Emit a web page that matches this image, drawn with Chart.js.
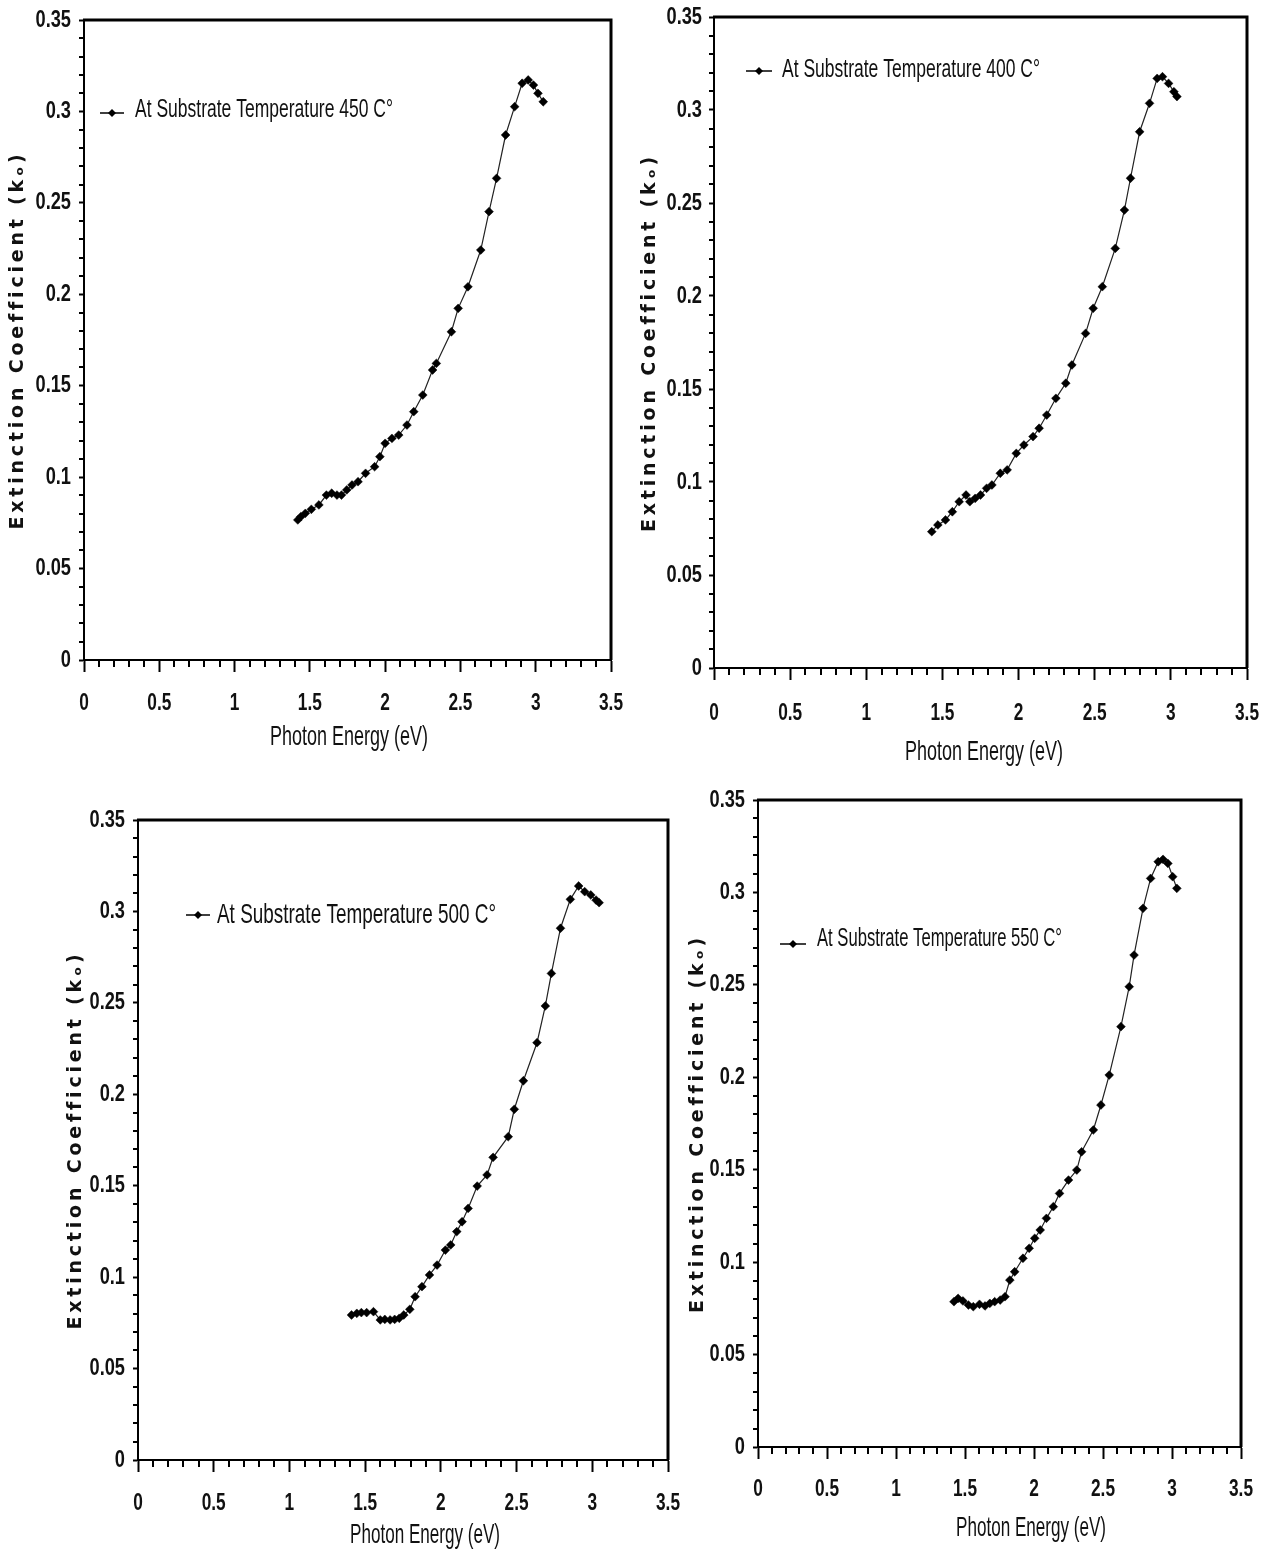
<!DOCTYPE html>
<html lang="en">
<head>
<meta charset="UTF-8">
<script src="https://cdn.jsdelivr.net/npm/chart.js"></script>
<style>
  body { margin: 0; background: #fff; width: 1267px; height: 1553px; position: relative; overflow: hidden; }
  canvas { position: absolute; }
</style>
</head>
<body>
<canvas id="c450" style="left:0px;top:0px" width="630" height="765"></canvas>
<canvas id="c400" style="left:630px;top:0px" width="637" height="780"></canvas>
<canvas id="c500" style="left:0px;top:780px" width="680" height="773"></canvas>
<canvas id="c550" style="left:680px;top:780px" width="587" height="773"></canvas>
<script>
// photon energy (eV) and extinction coefficient for each substrate temperature
const e450 = [1.42, 1.44, 1.47, 1.51, 1.56, 1.61, 1.645, 1.68, 1.71, 1.745, 1.78, 1.82, 1.87, 1.93, 1.965, 2.0, 2.045, 2.09, 2.145, 2.19, 2.25, 2.315, 2.34, 2.44, 2.485, 2.55, 2.635, 2.69, 2.74, 2.80, 2.86, 2.91, 2.95, 2.985, 3.015, 3.05];
const k450 = [0.0766, 0.0784, 0.0802, 0.0824, 0.0848, 0.0902, 0.0912, 0.0902, 0.0902, 0.093, 0.0957, 0.0975, 0.1021, 0.1057, 0.1112, 0.1185, 0.1212, 0.123, 0.1285, 0.1358, 0.1449, 0.1586, 0.1622, 0.1795, 0.1923, 0.2041, 0.2242, 0.2452, 0.2634, 0.2871, 0.3026, 0.3154, 0.3172, 0.3144, 0.3099, 0.3053];

const e400 = [1.43, 1.47, 1.52, 1.565, 1.61, 1.655, 1.68, 1.715, 1.75, 1.79, 1.825, 1.88, 1.925, 1.985, 2.035, 2.095, 2.135, 2.185, 2.245, 2.31, 2.35, 2.44, 2.49, 2.55, 2.635, 2.695, 2.735, 2.795, 2.86, 2.91, 2.945, 2.985, 3.02, 3.04];
const k400 = [0.0733, 0.0769, 0.0796, 0.084, 0.0894, 0.093, 0.0894, 0.0912, 0.093, 0.0966, 0.0984, 0.1047, 0.1065, 0.1154, 0.1199, 0.1244, 0.1289, 0.136, 0.145, 0.1531, 0.1629, 0.1799, 0.1934, 0.205, 0.2256, 0.2462, 0.2633, 0.2883, 0.3036, 0.317, 0.3179, 0.3143, 0.3098, 0.3072];

const e500 = [1.41, 1.445, 1.475, 1.51, 1.555, 1.6, 1.63, 1.665, 1.695, 1.725, 1.755, 1.795, 1.83, 1.875, 1.925, 1.975, 2.03, 2.065, 2.105, 2.14, 2.18, 2.24, 2.305, 2.345, 2.445, 2.485, 2.545, 2.635, 2.69, 2.73, 2.79, 2.855, 2.91, 2.95, 2.99, 3.025, 3.045];
const k500 = [0.0793, 0.0802, 0.0806, 0.0806, 0.0811, 0.0766, 0.0769, 0.0766, 0.0769, 0.0775, 0.0793, 0.0824, 0.0893, 0.0948, 0.1012, 0.1066, 0.1148, 0.1176, 0.1249, 0.1303, 0.1376, 0.1498, 0.1559, 0.1655, 0.1768, 0.1918, 0.2074, 0.2282, 0.2483, 0.2661, 0.2908, 0.3066, 0.3139, 0.3108, 0.309, 0.3062, 0.3048];

const e550 = [1.42, 1.45, 1.485, 1.525, 1.56, 1.605, 1.645, 1.68, 1.715, 1.755, 1.79, 1.825, 1.86, 1.92, 1.965, 2.005, 2.045, 2.09, 2.14, 2.185, 2.25, 2.31, 2.345, 2.43, 2.485, 2.545, 2.63, 2.69, 2.725, 2.79, 2.845, 2.9, 2.935, 2.97, 3.005, 3.035];
const k550 = [0.0786, 0.0804, 0.079, 0.0768, 0.0759, 0.0772, 0.0763, 0.0777, 0.0786, 0.0795, 0.0813, 0.0903, 0.0948, 0.1021, 0.1075, 0.1129, 0.1174, 0.1237, 0.13, 0.1372, 0.1444, 0.1498, 0.1597, 0.1715, 0.185, 0.2012, 0.2274, 0.249, 0.2661, 0.2914, 0.3076, 0.3166, 0.3179, 0.3157, 0.3085, 0.3022];

const xTicks = ['0', '0.5', '1', '1.5', '2', '2.5', '3', '3.5'];
const yTicks = ['0', '0.05', '0.1', '0.15', '0.2', '0.25', '0.3', '0.35'];
const yTitle = 'Extinction Coefficient (k\u2092)';
const xTitle = 'Photon Energy (eV)';

const sans = '"Liberation Sans", Arial, sans-serif';

// tall, squeezed text like Arial Narrow; sx = horizontal scale, or a target width when w is given
function narrowText(ctx, text, x, y, size, weight, align, sx, w) {
    ctx.save();
    ctx.font = weight + ' ' + size + 'px ' + sans;
    if (w) sx = w / ctx.measureText(text).width;
    ctx.translate(x, y);
    ctx.scale(sx, 1);
    ctx.fillStyle = '#111';
    ctx.textAlign = align;
    ctx.textBaseline = 'middle';
    ctx.fillText(text, 0, 0);
    ctx.restore();
}

// frame, minor ticks, tick labels, axis titles and legend
const framePlugin = {
    id: 'frame',
    afterDraw(chart, args, o) {
        const { ctx, chartArea: a, scales: { x, y } } = chart;
        ctx.save();
        ctx.strokeStyle = '#000';
        ctx.lineWidth = 3;
        ctx.beginPath();
        ctx.moveTo(a.left - 1, a.top);
        ctx.lineTo(a.right, a.top);
        ctx.lineTo(a.right, a.bottom);
        ctx.stroke();

        ctx.lineWidth = 2;
        ctx.beginPath();
        for (let i = 1; i < 35; i++) {
            if (i % 5 === 0) continue;
            const px = Math.round(x.getPixelForValue(i / 10));
            ctx.moveTo(px, a.bottom);
            ctx.lineTo(px, a.bottom + 7);
            const py = Math.round(y.getPixelForValue(i / 100));
            ctx.moveTo(a.left - 5, py);
            ctx.lineTo(a.left, py);
        }
        ctx.stroke();

        // tick labels
        xTicks.forEach(t => {
            narrowText(ctx, t, x.getPixelForValue(parseFloat(t)), o.xLabelY, 24, 'bold', 'center', 0.72);
        });
        yTicks.forEach(t => {
            narrowText(ctx, t, a.left - o.yLabelGap, y.getPixelForValue(parseFloat(t)), 24, 'bold', 'right', 0.76);
        });

        // y axis title with spaced letters
        ctx.save();
        ctx.translate(o.titleX, (a.top + a.bottom) / 2);
        ctx.rotate(-Math.PI / 2);
        ctx.font = 'bold 19px "DejaVu Sans", sans-serif';
        ctx.letterSpacing = '3.8px';
        ctx.fillStyle = '#111';
        ctx.textAlign = 'center';
        ctx.textBaseline = 'middle';
        ctx.fillText(yTitle, 0, 0);
        ctx.restore();

        // x axis title
        const [tx, ty, tw] = o.xTitle;
        narrowText(ctx, xTitle, tx, ty, 28, 'normal', 'center', 1, tw);

        // legend
        const [l1, l2, ly] = o.legLine;
        ctx.lineWidth = 1.5;
        ctx.beginPath();
        ctx.moveTo(l1, ly);
        ctx.lineTo(l2, ly);
        ctx.stroke();
        const cx = (l1 + l2) / 2, r = 4;
        ctx.fillStyle = '#000';
        ctx.beginPath();
        ctx.moveTo(cx, ly - r);
        ctx.lineTo(cx + r, ly);
        ctx.lineTo(cx, ly + r);
        ctx.lineTo(cx - r, ly);
        ctx.closePath();
        ctx.fill();
        const [gx, gy, gs, gw] = o.legText;
        narrowText(ctx, o.label, gx, gy, gs, 'normal', 'left', 1, gw);
        ctx.restore();
    }
};

function makeChart(id, e, k, label, cfg) {
    const points = e.map((v, i) => ({ x: v, y: k[i] }));
    return new Chart(document.getElementById(id), {
        type: 'line',
        data: {
            datasets: [{
                label: label,
                data: points,
                borderColor: '#222',
                borderWidth: 1.2,
                backgroundColor: '#000',
                pointStyle: 'rectRot',
                pointRadius: 4.4,
                pointBorderWidth: 0.5,
                pointBorderColor: '#000',
                tension: 0
            }]
        },
        options: {
            responsive: false,
            animation: false,
            events: [],
            layout: { padding: { top: cfg.padTop, right: cfg.padRight, left: 0, bottom: 0 } },
            plugins: {
                legend: { display: false },
                tooltip: { enabled: false },
                frame: {
                    titleX: cfg.titleX, xTitle: cfg.xTitle, xLabelY: cfg.xLabelY, yLabelGap: cfg.yLabelGap,
                    legLine: cfg.legLine, legText: cfg.legText, label: label
                }
            },
            scales: {
                x: {
                    type: 'linear',
                    min: 0,
                    max: 3.5,
                    afterFit(s) { s.height = cfg.xh; s.paddingLeft = 0; s.paddingRight = 0; },
                    afterBuildTicks(s) { s.ticks = xTicks.map(t => ({ value: parseFloat(t) })); },
                    ticks: { display: false },
                    grid: { drawOnChartArea: false, color: '#000', tickLength: 12, tickWidth: 2 },
                    border: { color: '#000', width: 2 }
                },
                y: {
                    min: 0,
                    max: 0.35,
                    afterFit(s) { s.width = cfg.yw; s.paddingTop = 0; s.paddingBottom = 0; },
                    afterBuildTicks(s) { s.ticks = yTicks.map(t => ({ value: parseFloat(t) })); },
                    ticks: { display: false },
                    grid: { drawOnChartArea: false, color: '#000', tickLength: 5, tickWidth: 2 },
                    border: { color: '#000', width: 2 }
                }
            }
        },
        plugins: [framePlugin]
    });
}

makeChart('c450', e450, k450, 'At Substrate Temperature 450 C\u00b0',
    { padTop: 20, padRight: 19, yw: 84, xh: 105, xLabelY: 703, yLabelGap: 13, titleX: 18,
      xTitle: [349, 737, 158], legLine: [100, 124, 113], legText: [135, 110, 26, 258] });
makeChart('c400', e400, k400, 'At Substrate Temperature 400 C\u00b0',
    { padTop: 17, padRight: 20, yw: 84, xh: 112, xLabelY: 713, yLabelGap: 12, titleX: 20,
      xTitle: [354, 752, 158], legLine: [116, 142, 71], legText: [152, 70, 26, 258] });
makeChart('c500', e500, k500, 'At Substrate Temperature 500 C\u00b0',
    { padTop: 40, padRight: 12, yw: 138, xh: 93, xLabelY: 723, yLabelGap: 13, titleX: 76,
      xTitle: [425, 755, 150], legLine: [186, 210, 135], legText: [217, 135, 28, 279] });
makeChart('c550', e550, k550, 'At Substrate Temperature 550 C\u00b0',
    { padTop: 20, padRight: 26, yw: 78, xh: 106, xLabelY: 709, yLabelGap: 13, titleX: 18,
      xTitle: [351, 748, 150], legLine: [100, 126, 164], legText: [137, 159, 25, 245] });
</script>
</body>
</html>
